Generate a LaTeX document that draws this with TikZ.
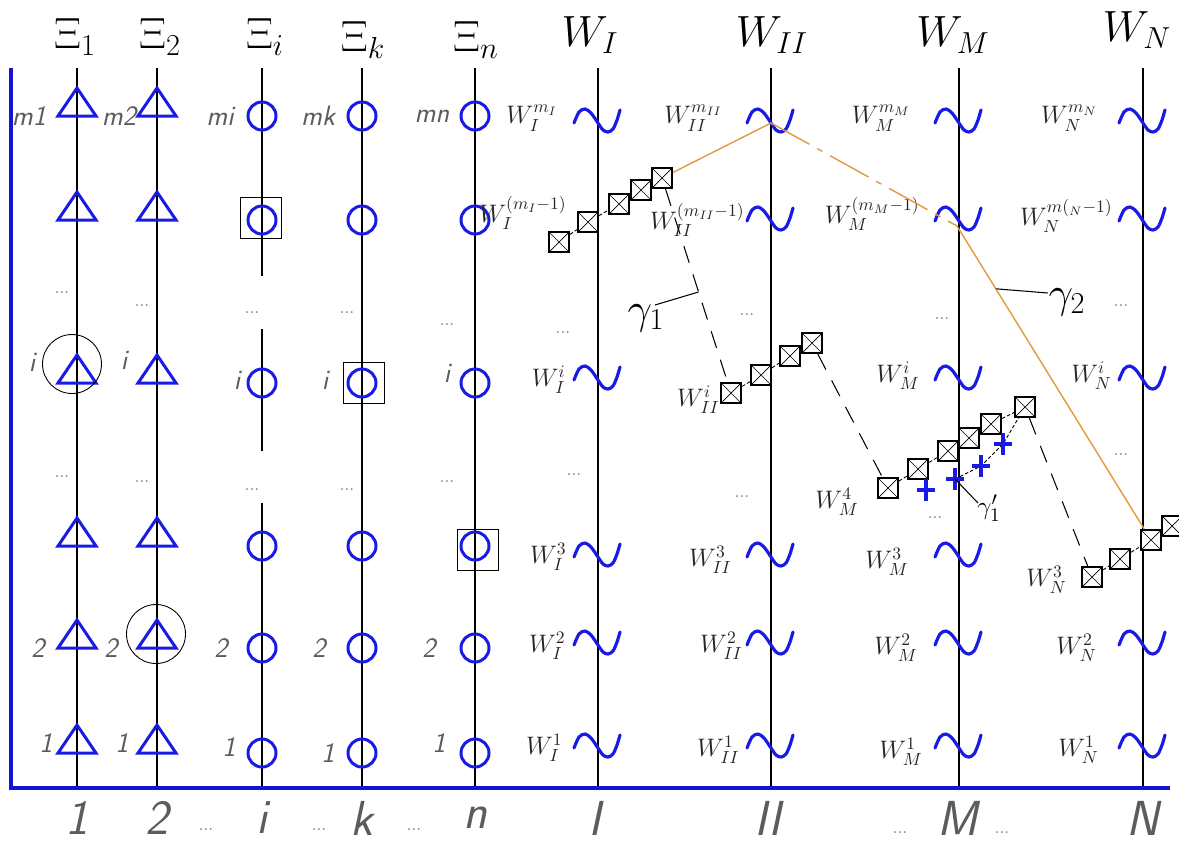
\documentclass[tikz,border=0pt]{standalone}
\usepackage{fontspec}
\usepackage{amsmath}
\usepackage{xcolor}
\usepackage{tikz}
\usetikzlibrary{calc}
\definecolor{axisblue}{HTML}{1414D2}
\definecolor{markblue}{HTML}{1A1AE6}
\definecolor{pathorange}{HTML}{E39A3A}
\definecolor{labgray}{HTML}{5C5C5C}

\tikzset{
  tri/.pic  = {\draw[markblue,line width=1.7pt] (0,-28) -- (19,0) -- (-19,0) -- cycle;},
  wave/.pic = {\draw[markblue,line width=1.8pt,line cap=round] plot[smooth] coordinates
               {(-24,3) (-19,-8) (-13,-11) (-7,-7) (0,3) (5,10) (10,12) (15,9) (19,0) (22,-10)};},
  plus/.pic = {\draw[markblue,line width=1.8pt] (-9,0) -- (9,0) (0,-11) -- (0,11);}
}

\begin{document}
\begin{tikzpicture}[
    x=0.02cm,y=-0.02cm,
    col/.style   = {line width=0.8pt},
    axe/.style   = {axisblue,line width=1.8pt,line join=miter},
    ring/.style  = {circle,draw=markblue,line width=1.7pt,minimum size=0.56cm,inner sep=0pt},
    cadre/.style = {rectangle,draw,line width=0.8pt,minimum width=0.82cm,
                    minimum height=0.82cm,inner sep=0pt},
    sel/.style   = {circle,draw,line width=0.5pt,minimum size=1.18cm,inner sep=0pt},
    sq/.style    = {rectangle,draw,fill=white,line width=0.9pt,minimum size=0.41cm,inner sep=0pt,
                    path picture={\draw[line width=0.4pt]
                      (path picture bounding box.south west) -- (path picture bounding box.north east)
                      (path picture bounding box.north west) -- (path picture bounding box.south east);}},
    chain/.style = {line width=0.5pt,dash pattern=on 2pt off 1.2pt},
    saut/.style  = {line width=0.6pt,dash pattern=on 10pt off 7pt},
    orng/.style  = {pathorange,line width=0.8pt},
    lead/.style  = {line width=0.6pt},
    head/.style  = {font=\fontsize{24}{28}\selectfont},
    gam/.style   = {font=\fontsize{24}{28}\selectfont,inner sep=0pt},
    rang/.style  = {font=\fontsize{16}{16}\selectfont\sffamily\slshape,text=labgray,inner sep=0pt},
    pts/.style   = {font=\fontsize{10}{10}\selectfont,text=gray,inner sep=0pt},
    wlab/.style  = {font=\fontsize{14}{16}\selectfont,text=black!85,anchor=east,inner sep=0pt},
    pied/.style  = {font=\fontsize{28}{30}\selectfont\sffamily\slshape,text=labgray},
  ]

  \useasboundingbox (0,0) rectangle (1179,843);

  \foreach \x in {77,157,362,475,598,771,959,1143} \draw[col] (\x,68) -- (\x,788);
  \draw[col] (262,68) -- (262,276) (262,329) -- (262,451) (262,503) -- (262,788);
  \draw[axe] (11,68) -- (11,788) -- (1170,788);

  \node[head] (xi1) at (75,37)   {$\Xi_1$};
  \node[head] (xi2) at (160,37)  {$\Xi_2$};
  \node[head] (xii) at (265,37)  {$\Xi_i$};
  \node[head] (xik) at (363,40)  {$\Xi_k$};
  \node[head] (xin) at (476,40)  {$\Xi_n$};
  \node[head] (wI)  at (590,35)  {$W_I$};
  \node[head] (wII) at (772,35)  {$W_{II}$};
  \node[head] (wM)  at (953,35)  {$W_M$};
  \node[head] (wN)  at (1137,30) {$W_N$};

  \foreach \x in {77,157}
    \foreach \y in {116,220,383,546,648,753} \pic at (\x,\y) {tri};
  \foreach \x in {262,362,475}
    \foreach \y in {116,220,383,546,648,753} \node[ring] (r-\x-\y) at (\x,\y) {};

  \node[cadre] (bi) at (261,218) {};
  \node[cadre] (bk) at (364,383) {};
  \node[cadre] (bn) at (478,550) {};
  \node[sel]   (s1) at (72,364)  {};
  \node[sel]   (s2) at (156,634) {};

  \node[rang] (m1) at (29,116)  {m1};
  \node[rang] (m2) at (119,116) {m2};
  \node[rang] (mi) at (220,116) {mi};
  \node[rang] (mk) at (318,116) {mk};
  \node[rang] (mn) at (432,116) {mn};
  \node[rang] (i1) at (32,362)  {i};
  \node[rang] (i2) at (124,360) {i};
  \node[rang] (ii) at (237,380) {i};
  \node[rang] (ik) at (325,380) {i};
  \node[rang] (in) at (447,373) {i};
  \node[rang] (d1) at (38,648)  {2};
  \node[rang] (d2) at (111,648) {2};
  \node[rang] (di) at (221,648) {2};
  \node[rang] (dk) at (319,648) {2};
  \node[rang] (dn) at (429,648) {2};
  \node[rang] (u1) at (46,743)  {1};
  \node[rang] (u2) at (122,743) {1};
  \node[rang] (ui) at (229,747) {1};
  \node[rang] (uk) at (328,753) {1};
  \node[rang] (un) at (439,743) {1};

  \node[pts] at (62,293)   {...};  \node[pts] at (62,477)   {...};
  \node[pts] at (142,306)  {...};  \node[pts] at (142,482)  {...};
  \node[pts] at (252,313)  {...};  \node[pts] at (252,490)  {...};
  \node[pts] at (347,313)  {...};  \node[pts] at (347,490)  {...};
  \node[pts] at (447,325)  {...};  \node[pts] at (447,482)  {...};
  \node[pts] at (563,333)  {...};  \node[pts] at (574,475)  {...};
  \node[pts] at (747,315)  {...};  \node[pts] at (742,497)  {...};
  \node[pts] at (942,319)  {...};  \node[pts] at (935,518)  {...};
  \node[pts] at (1121,306) {...};  \node[pts] at (1121,455) {...};

  \foreach \x in {598,771,959,1143} {\pic at (\x,120) {wave}; \pic at (\x,642) {wave};
                                     \pic at (\x,745) {wave};}
  \foreach \x in {771,959,1143} \pic at (\x,218) {wave};
  \foreach \x in {598,959,1143} \pic at (\x,377) {wave};
  \foreach \x in {598,771,959}  \pic at (\x,554) {wave};

  \node[wlab] (wIm)   at (558,118)  {$W_I^{m_I}$};
  \node[wlab] (wIIm)  at (723,118)  {$W_{II}^{m_{II}}$};
  \node[wlab] (wMm)   at (911,118)  {$W_M^{m_M}$};
  \node[wlab] (wNm)   at (1098,118) {$W_N^{m_N}$};
  \node[wlab] (wIp)   at (567,213)  {$W_I^{(m_I-1)}$};
  \node[wlab] (wIIp)  at (745,220)  {$W_{II}^{(m_{II}-1)}$};
  \node[wlab] (wMp)   at (920,214)  {$W_M^{(m_M-1)}$};
  \node[wlab] (wNp)   at (1113,216) {$W_N^{m(_N-1)}$};
  \node[wlab] (wIi)   at (566,380)  {$W_I^i$};
  \node[wlab] (wIIi)  at (720,400)  {$W_{II}^i$};
  \node[wlab] (wMi)   at (920,376)  {$W_M^i$};
  \node[wlab] (wNi)   at (1112,376) {$W_N^i$};
  \node[wlab] (wM4)   at (859,502)  {$W_M^4$};
  \node[wlab] (wI3)   at (567,557)  {$W_I^3$};
  \node[wlab] (wII3)  at (732,560)  {$W_{II}^3$};
  \node[wlab] (wM3)   at (909,562)  {$W_M^3$};
  \node[wlab] (wN3)   at (1067,580) {$W_N^3$};
  \node[wlab] (wI2)   at (566,646)  {$W_I^2$};
  \node[wlab] (wII2)  at (743,646)  {$W_{II}^2$};
  \node[wlab] (wM2)   at (918,648)  {$W_M^2$};
  \node[wlab] (wN2)   at (1097,648) {$W_N^2$};
  \node[wlab] (wI1)   at (563,748)  {$W_I^1$};
  \node[wlab] (wII1)  at (740,750)  {$W_{II}^1$};
  \node[wlab] (wM1)   at (923,752)  {$W_M^1$};
  \node[wlab] (wN1)   at (1099,750) {$W_N^1$};

  \node[sq] (a1) at (559,242)  {};
  \node[sq] (a2) at (588,222)  {};
  \node[sq] (a3) at (619,204)  {};
  \node[sq] (a4) at (641,190)  {};
  \node[sq] (a5) at (662,178)  {};
  \node[sq] (b1) at (731,393)  {};
  \node[sq] (b2) at (761,375)  {};
  \node[sq] (b3) at (790,356)  {};
  \node[sq] (b4) at (812,343)  {};
  \node[sq] (c1) at (888,488)  {};
  \node[sq] (c2) at (918,469)  {};
  \node[sq] (c3) at (948,451)  {};
  \node[sq] (c4) at (969,438)  {};
  \node[sq] (c5) at (991,424)  {};
  \node[sq] (c6) at (1025,407) {};
  \node[sq] (e1) at (1092,577) {};
  \node[sq] (e2) at (1120,559) {};
  \node[sq] (e3) at (1151,540) {};
  \node[sq] (e4) at (1172,526) {};

  \coordinate (o1) at (771,123);
  \coordinate (o2) at (957,226);
  \draw[orng] (a5) -- (o1);
  \draw[orng,dash pattern=on 25pt off 5pt on 3.4pt off 5pt] (o1) -- (o2);
  \draw[orng] (o2) -- (e3);

  \draw[chain] (a1) -- (a2) -- (a3) -- (a4) -- (a5);
  \draw[chain] (b1) -- (b2) -- (b3) -- (b4);
  \draw[chain] (c1) -- (c2) -- (c3) -- (c4) -- (c5) -- (c6);
  \draw[chain] (e1) -- (e2) -- (e3) -- (e4);
  \draw[saut] (a5) -- (b1);
  \draw[saut] (b4) -- (c1);
  \draw[saut] (c6) -- (e1);

  \coordinate (p1) at (926,490);
  \coordinate (p2) at (955,479);
  \coordinate (p3) at (981,466);
  \coordinate (p4) at (1003,444);
  \draw[chain] (p2) -- (p3) -- (p4) -- (c6);
  \foreach \p in {p1,p2,p3,p4} \pic at (\p) {plus};

  \node[gam] (g1) at (646,318)  {$\gamma_1$};
  \node[gam] (g2) at (1067,302) {$\gamma_2$};
  \node[font=\fontsize{15}{17}\selectfont,inner sep=0pt] (g3) at (989,508) {$\gamma_1'$};
  \coordinate (t1) at ($(a5)!0.53!(b1)$);
  \coordinate (t2) at ($(o2)!0.2!(e3)$);
  \coordinate (h1) at (655,305);
  \coordinate (h2) at (1048,293);
  \coordinate (h3) at (978,503);
  \draw[lead] (t1) -- (h1);
  \draw[lead] (t2) -- (h2);
  \draw[lead] (p2) -- (h3);

  \node[pied] (f1)  at (77,818)   {1};
  \node[pied] (f2)  at (157,818)  {2};
  \node[pied] (fi)  at (262,818)  {i};
  \node[pied] (fk)  at (362,818)  {k};
  \node[pied] (fn)  at (475,818)  {n};
  \node[pied] (fI)  at (595,818)  {I};
  \node[pied] (fII) at (768,818)  {II};
  \node[pied] (fM)  at (958,818)  {M};
  \node[pied] (fN)  at (1143,818) {N};
  \node[pts] at (206,830)  {...};
  \node[pts] at (319,830)  {...};
  \node[pts] at (414,830)  {...};
  \node[pts] at (900,833)  {...};
  \node[pts] at (1002,833) {...};

\end{tikzpicture}
\end{document}
